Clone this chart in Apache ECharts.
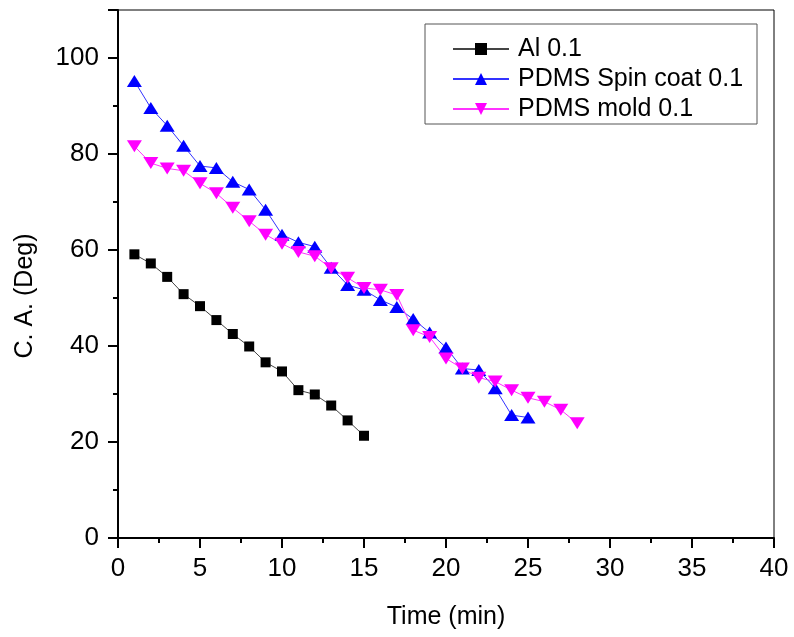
<!DOCTYPE html>
<html>
<head>
<meta charset="utf-8">
<script src="https://cdn.jsdelivr.net/npm/echarts@6/dist/echarts.min.js"></script>
<style>html,body{margin:0;padding:0;background:#fff}#c{width:794px;height:637px}</style>
</head>
<body>
<div id="c"></div>
<script>
const timeAl = [1,2,3,4,5,6,7,8,9,10,11,12,13,14,15];
const valAl = [59.1,57.2,54.4,50.8,48.3,45.4,42.5,39.9,36.6,34.7,30.8,29.9,27.6,24.5,21.3];
const timeSpin = [1,2,3,4,5,6,7,8,9,10,11,12,13,14,15,16,17,18,19,20,21,22,23,24,25];
const valSpin = [95.2,89.6,85.9,81.7,77.5,77.1,74.2,72.6,68.4,63.2,61.6,60.7,56.3,52.7,51.7,49.6,48.1,45.6,42.8,39.7,35.3,35.0,31.2,25.6,25.1];
const timeMold = [1,2,3,4,5,6,7,8,9,10,11,12,13,14,15,16,17,18,19,20,21,22,23,24,25,26,27,28];
const valMold = [81.6,78.1,77.0,76.5,73.9,71.8,68.8,66.0,63.2,61.3,59.6,58.7,56.2,54.2,52.1,51.7,50.6,43.3,41.9,37.4,35.3,33.4,32.6,30.8,29.2,28.4,26.7,23.9];
const seriesNames = ['Al 0.1','PDMS Spin coat 0.1','PDMS mold 0.1'];
const xTitle = 'Time (min)';
const yTitle = 'C. A. (Deg)';

const pair = (xs, ys) => xs.map((x, i) => [x, ys[i]]);
const FONT = '"Liberation Sans", Arial, sans-serif';

const chart = echarts.init(document.getElementById('c'), null, {renderer: 'canvas'});
chart.setOption({
  animation: false,
  backgroundColor: '#fff',
  grid: {left: 118, right: 20, top: 10, bottom: 99, show: true, borderColor: '#000', borderWidth: 1, backgroundColor: 'transparent'},
  xAxis: {
    type: 'value', min: 0, max: 40, interval: 5,
    axisLine: {lineStyle: {color: '#000', width: 2}},
    axisTick: {show: true, inside: false, length: 10, lineStyle: {color: '#000', width: 2}},
    minorTick: {show: true, splitNumber: 2, length: 5, lineStyle: {color: '#000', width: 2}},
    splitLine: {show: false},
    axisLabel: {color: '#000', fontSize: 26, fontFamily: FONT, margin: 18}
  },
  yAxis: {
    type: 'value', min: 0, max: 110, interval: 20,
    axisLine: {lineStyle: {color: '#000', width: 2}},
    axisTick: {show: true, inside: false, length: 10, lineStyle: {color: '#000', width: 2}},
    minorTick: {show: true, splitNumber: 2, length: 5, lineStyle: {color: '#000', width: 2}},
    splitLine: {show: false},
    axisLabel: {color: '#000', fontSize: 26, fontFamily: FONT, margin: 19,
      formatter: v => (v > 100 ? '' : String(v))}
  },
  legend: {
    orient: 'vertical', left: 452, top: 35, padding: 0, itemGap: 2,
    itemWidth: 56, itemHeight: 15,
    textStyle: {color: '#000', fontSize: 25, fontFamily: FONT, lineHeight: 28, padding: [0,0,0,4]},
    data: seriesNames
  },
  graphic: [
    {type: 'rect', shape: {x: 425, y: 24, width: 332, height: 100}, style: {fill: null, stroke: '#555', lineWidth: 1}, z: 100},
    {type: 'text', x: 446, y: 617, style: {text: xTitle, font: '25px ' + FONT, fill: '#000', align: 'center', verticalAlign: 'middle'}},
    {type: 'text', x: 25, y: 296, rotation: Math.PI / 2, style: {text: yTitle, font: '25px ' + FONT, fill: '#000', align: 'center', verticalAlign: 'middle'}}
  ],
  series: [
    {name: seriesNames[0], type: 'line', data: pair(timeAl, valAl), symbol: 'rect', symbolSize: 10,
     itemStyle: {color: '#000'}, lineStyle: {color: '#444', width: 1}},
    {name: seriesNames[1], type: 'line', data: pair(timeSpin, valSpin), symbol: 'triangle', symbolSize: [15, 12],
     itemStyle: {color: '#0000ff'}, lineStyle: {color: '#3333ff', width: 1}},
    {name: seriesNames[2], type: 'line', data: pair(timeMold, valMold), symbol: 'triangle', symbolSize: [15, 12], symbolRotate: 180,
     itemStyle: {color: '#ff00ff'}, lineStyle: {color: '#ff33ff', width: 1}}
  ]
});
</script>
</body>
</html>
